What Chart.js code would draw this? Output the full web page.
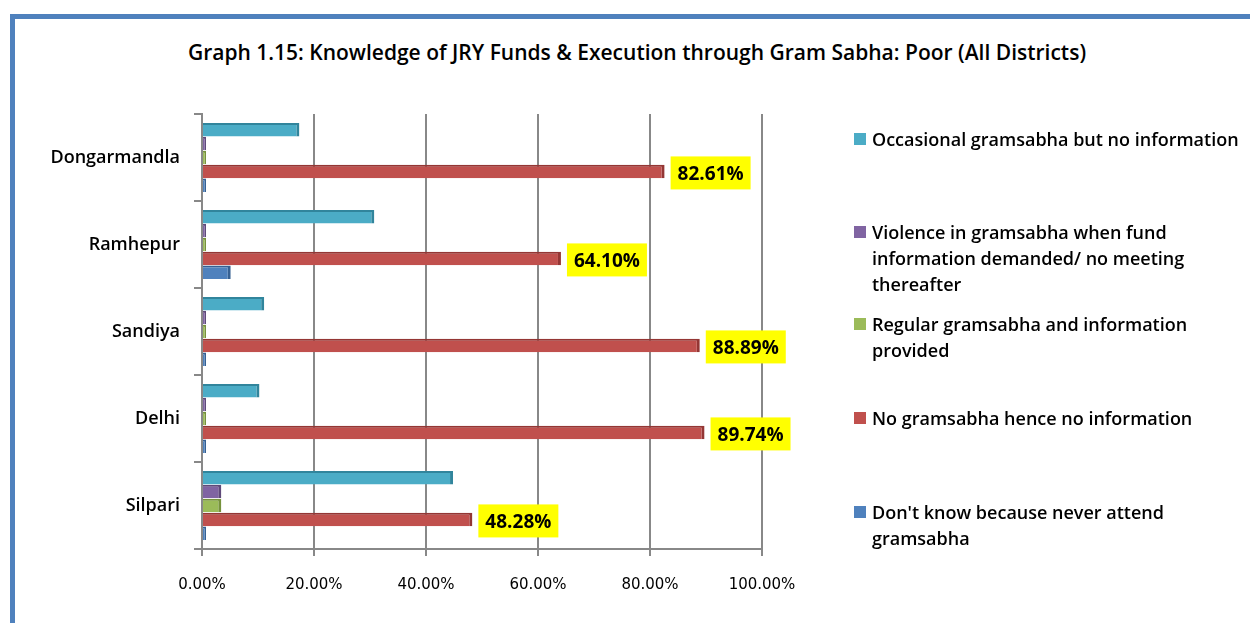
<!DOCTYPE html>
<html>
<head>
<meta charset="utf-8">
<script src="https://cdn.jsdelivr.net/npm/chart.js@4.4.1/dist/chart.umd.min.js"></script>
<style>
  html, body { margin: 0; padding: 0; background: #fff; }
  #wrap { position: relative; width: 1250px; height: 623px; overflow: hidden; background: #fff; }
  #frame { position: absolute; left: 10px; top: 14px; width: 1400px; height: 800px; border: 5px solid #4F81BD; box-sizing: border-box; }
  #title { position: absolute; left: 0; top: 38px; width: 1274px; text-align: center;
           font-family: "Open Sans", sans-serif; font-weight: 600; font-size: 21px; color: #000; line-height: 28px; }
  #chart { position: absolute; left: 0; top: 0; }
  .lg { position: absolute; left: 854px; font-family: "Open Sans", sans-serif; font-weight: 600;
        font-size: 18px; line-height: 26px; color: #000; white-space: nowrap; }
  .lg i { position: absolute; left: 0; top: 7px; width: 12px; height: 12px; }
  .lg span { display: block; margin-left: 18px; }
</style>
</head>
<body>
<div id="wrap">
  <div id="frame"></div>
  <div id="title">Graph 1.15: Knowledge of JRY Funds &amp; Execution through Gram Sabha: Poor (All Districts)</div>
  <canvas id="chart" width="1250" height="623"></canvas>
  <div id="legend"></div>
</div>
<script>
// districts, top to bottom
const districts = ['Dongarmandla', 'Ramhepur', 'Sandiya', 'Delhi', 'Silpari'];

// series values (%)
const occasional = [17.39, 30.77, 11.11, 10.26, 44.83];
const violence   = [0, 0, 0, 0, 3.45];
const regular    = [0, 0, 0, 0, 3.45];
const noSabha    = [82.61, 64.10, 88.89, 89.74, 48.28];
const dontKnow   = [0, 5.13, 0, 0, 0];

const seriesLabels = [
    ['Occasional gramsabha but no information'],
    ['Violence in gramsabha when fund', 'information demanded/ no meeting', 'thereafter'],
    ['Regular gramsabha and information', 'provided'],
    ['No gramsabha hence no information'],
    ["Don't know because never attend", 'gramsabha']
];
const seriesColors = ['#4BACC6', '#8064A2', '#9BBB59', '#C0504D', '#4F81BD'];
const edgeColors   = ['#31859C', '#5F497A', '#76923C', '#943634', '#366092'];
const xTicks = [0, 20, 40, 60, 80, 100];

const seriesValues = [occasional, violence, regular, noSabha, dontKnow];

// legend (html, so long labels can wrap like the original)
const legendTops = [126, 219, 311, 405, 499];
const legendBox = document.getElementById('legend');
seriesLabels.forEach(function (lines, i) {
    const div = document.createElement('div');
    div.className = 'lg';
    div.style.top = legendTops[i] + 'px';
    div.innerHTML = '<i style="background:' + seriesColors[i] + '"></i>' +
        lines.map(l => '<span>' + l + '</span>').join('');
    legendBox.appendChild(div);
});

// yellow value boxes on the red series
const valueBoxes = {
    id: 'valueBoxes',
    afterDatasetsDraw(chart) {
        const ctx = chart.ctx;
        const meta = chart.getDatasetMeta(3);
        ctx.save();
        ctx.font = 'bold 19px "Open Sans", sans-serif';
        ctx.textBaseline = 'middle';
        meta.data.forEach(function (bar, i) {
            const txt = noSabha[i].toFixed(2) + '%';
            const w = ctx.measureText(txt).width + 14;
            const x = bar.x + 6;
            const y = bar.y + 1;
            ctx.fillStyle = '#FFFF00';
            ctx.fillRect(x, y - 16, w, 33);
            ctx.fillStyle = '#000';
            ctx.fillText(txt, x + 7, y + 2);
        });
        ctx.restore();
    }
};

new Chart(document.getElementById('chart'), {
    type: 'bar',
    data: {
        labels: districts,
        datasets: seriesValues.map(function (vals, i) {
            return {
                label: seriesLabels[i].join(' '),
                data: vals,
                backgroundColor: seriesColors[i],
                borderColor: edgeColors[i],
                borderWidth: { top: 2, right: 3, bottom: 0, left: 0 },
                borderSkipped: false,
                minBarLength: 4,
                categoryPercentage: 0.8,
                barPercentage: 0.97
            };
        })
    },
    options: {
        indexAxis: 'y',
        responsive: false,
        animation: false,
        layout: { padding: { left: 0, top: 114, right: 488, bottom: 0 } },
        plugins: {
            legend: { display: false },
            title: { display: false },
            tooltip: { enabled: false }
        },
        scales: {
            x: {
                min: 0,
                max: 100,
                afterFit: function (scale) { scale.height = 74; },
                afterBuildTicks: function (scale) {
                    scale.ticks = xTicks.map(v => ({ value: v }));
                },
                grid: { color: '#888', lineWidth: 2, tickLength: 7, drawTicks: true },
                border: { color: '#888', width: 2 },
                ticks: {
                    padding: 20,
                    color: '#000',
                    font: { family: '"DejaVu Sans", sans-serif', size: 15 },
                    callback: v => v.toFixed(2) + '%'
                }
            },
            y: {
                afterFit: function (scale) { scale.width = 202; },
                grid: { drawOnChartArea: false, color: '#888', lineWidth: 2, tickLength: 8 },
                border: { color: '#888', width: 2 },
                ticks: {
                    padding: 14,
                    color: '#000',
                    font: { family: '"Open Sans", sans-serif', size: 18, weight: '600' }
                }
            }
        }
    },
    plugins: [valueBoxes]
});
</script>
</body>
</html>
